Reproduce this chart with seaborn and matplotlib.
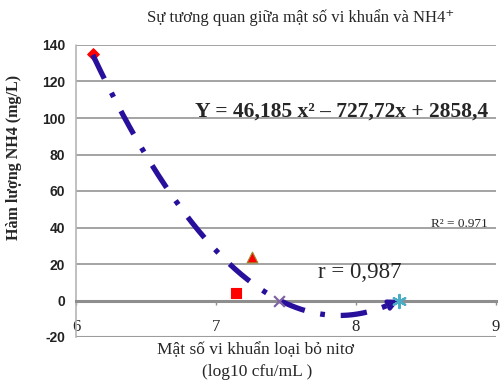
import numpy as np
import pandas as pd
import matplotlib
matplotlib.use("Agg")
import matplotlib.pyplot as plt
import seaborn as sns

# Measured samples: bacterial density (log10 cfu/mL) vs NH4 (mg/L)
density = [6.12, 7.14, 7.26, 7.45, 8.31]
nh4 = [135, 4, 24, 0, 0]
markers = ["D", "s", "^", "x", (6, 2, 0)]
face_colors = ["#FF0000", "#FF0000", "#FF0000", "#8064A2", "#4BACC6"]
edge_colors = ["#FF0000", "#FF0000", "#9B8B2A", "#8064A2", "#4BACC6"]
marker_sizes = [35, 60, 60, 60, 90]

# Quadratic trend line coefficients and statistics
coef_a, coef_b, coef_c = 46.185, -727.72, 2858.4
r2_text = "R² = 0.971"
r_text = "r = 0,987"
eq_text = "Y = 46,185 x² – 727,72x + 2858,4"

x_ticks = [6, 7, 8, 9]
y_ticks = [-20, 0, 20, 40, 60, 80, 100, 120, 140]

sns.set_theme(style="white")
serif = ["Liberation Serif", "DejaVu Serif"]
plt.rcParams["font.family"] = serif

fig = plt.figure(figsize=(5.02, 3.82), dpi=100)
ax = fig.add_axes([76 / 502, 1 - 337 / 382, 420 / 502, 292 / 382])

ax.set_xlim(6, 9)
ax.set_ylim(-20, 140)

# horizontal gridlines
for yv in y_ticks:
    if yv == 0:
        continue
    ax.axhline(yv, color="#9c9c9c", lw=1.3, zorder=1)

# trend curve over the sampled range
xs = np.linspace(min(density), max(density), 300)
trend = pd.DataFrame({"x": xs, "y": coef_a * xs**2 + coef_b * xs + coef_c})
sns.lineplot(data=trend, x="x", y="y", ax=ax, color="#28109C", lw=3.8,
             zorder=4, legend=False)
line = ax.lines[-1]
line.set_dashes([5.0, 3.0, 0.9, 3.0])
line.set_dash_capstyle("butt")

# arrow head at the end of the trend curve
x_end = max(density)
x_pre = x_end - 0.08
f = lambda v: coef_a * v**2 + coef_b * v + coef_c
ax.annotate("", xy=(x_end, f(x_end)), xytext=(x_pre, f(x_pre)),
            arrowprops=dict(arrowstyle="-|>", color="#28109C", lw=3,
                            mutation_scale=14, shrinkA=0, shrinkB=0),
            zorder=5)

# sample points
pts = pd.DataFrame({"x": density, "y": nh4})
for i in range(len(density)):
    z = 3 if i == 0 else 6
    sns.scatterplot(data=pts.iloc[[i]], x="x", y="y", ax=ax,
                    marker=markers[i], s=marker_sizes[i],
                    color=face_colors[i], edgecolor=edge_colors[i],
                    linewidth=1.6 if i >= 3 else 0.8, zorder=z, legend=False)

# axes styling
for s in ["top", "right"]:
    ax.spines[s].set_visible(False)
ax.spines["left"].set_color("#b5b5b5")
ax.spines["left"].set_linestyle((0, (1, 1)))
ax.spines["left"].set_linewidth(1.2)
ax.spines["bottom"].set_position(("data", 0))
ax.spines["bottom"].set_color("#8e8e8e")
ax.spines["bottom"].set_linewidth(2.2)
ax.axhline(-20, color="#9c9c9c", lw=1.5, zorder=1)

ax.set_xticks(x_ticks)
ax.set_xticklabels([str(v) for v in x_ticks], fontsize=12, family=serif)
ax.tick_params(axis="x", direction="out", length=3, width=1, color="#8e8e8e",
               pad=10, bottom=True)
ax.set_yticks(y_ticks)
ax.set_yticklabels([str(v) for v in y_ticks], fontsize=10, fontweight="bold",
                   family=["Liberation Sans", "DejaVu Sans"], color="#222222")
ax.tick_params(axis="y", length=0, pad=8)

ax.set_xlabel("")
ax.set_ylabel("Hàm lượng NH4 (mg/L)", fontsize=11.5, fontweight="bold",
              family=serif)
ax.yaxis.set_label_coords(-(76 - 22) / 420, (337 - 157) / 292)

fig.text(256 / 502, 1 - 350 / 382, "Mật số vi khuẩn loại bỏ nitơ",
         ha="center", va="center", fontsize=12.5, family=serif)
fig.text(257 / 502, 1 - 372 / 382, "(log10 cfu/mL )",
         ha="center", va="center", fontsize=12.5, family=serif)

fig.text(147 / 502, 1 - 18 / 382, "Sự tương quan giữa mật số vi khuẩn và NH4⁺",
         ha="left", va="center", fontsize=12, family=serif)

ax.text(488 / 502, 1 - 117 / 382, eq_text, transform=fig.transFigure,
        ha="right", va="baseline", fontsize=15.5, fontweight="bold",
        family=serif)
ax.text(488 / 502, 1 - 227 / 382, r2_text, transform=fig.transFigure,
        ha="right", va="baseline", fontsize=9.5, family=serif)
ax.text(402 / 502, 1 - 278 / 382, r_text, transform=fig.transFigure,
        ha="right", va="baseline", fontsize=16.5, family=serif)

fig.savefig("out.png", dpi=100)
